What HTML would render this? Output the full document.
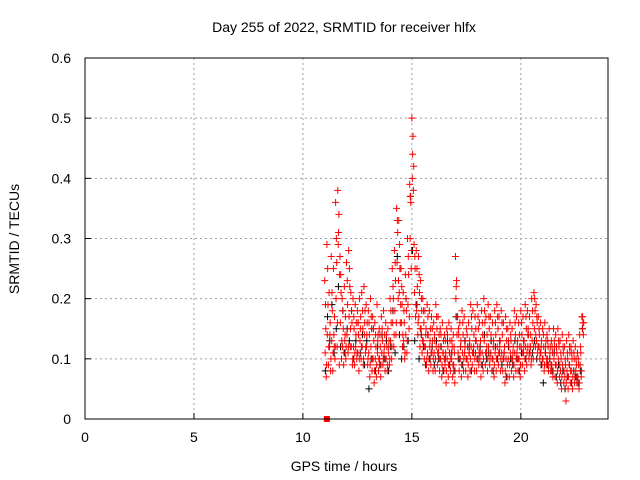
<!DOCTYPE html>
<html><head><meta charset="utf-8"><style>
body{margin:0;background:#fff}
svg{display:block;font-family:"Liberation Sans",sans-serif}
</style></head><body>
<svg id="chart" width="640" height="480" xmlns="http://www.w3.org/2000/svg">
<rect width="640" height="480" fill="#fff"/>
<text x="344" y="32" font-size="14" text-anchor="middle">Day 255 of 2022, SRMTID for receiver hlfx</text>
<text x="344" y="471" font-size="14" text-anchor="middle">GPS time / hours</text>
<text transform="translate(19,239) rotate(-90)" font-size="14" text-anchor="middle">SRMTID / TECUs</text>
<g id="grid"></g>
<g id="ticks"></g>
<g id="marks"></g>
<rect x="85" y="58" width="523" height="361" fill="none" stroke="#000" stroke-width="1"/>
</svg>
<script>
const xTicks=[0,5,10,15,20];
const yTicks=[0,0.1,0.2,0.3,0.4,0.5,0.6];
const yTickLabels=["0","0.1","0.2","0.3","0.4","0.5","0.6"];
const times=[11.0,11.1,11.2,11.3,11.4,11.5,11.6,11.7,11.8,11.9,12.0,12.1,12.2,12.3,12.4,12.5,12.6,12.7,12.8,12.9,13.0,13.1,13.2,13.3,13.4,13.5,13.6,13.7,13.8,13.9,14.0,14.1,14.2,14.3,14.4,14.5,14.6,14.7,14.8,14.9,15.0,15.1,15.2,15.3,15.4,15.5,15.6,15.7,15.8,15.9,16.0,16.1,16.2,16.3,16.4,16.5,16.6,16.7,16.8,16.9,17.0,17.1,17.2,17.3,17.4,17.5,17.6,17.7,17.8,17.9,18.0,18.1,18.2,18.3,18.4,18.5,18.6,18.7,18.8,18.9,19.0,19.1,19.2,19.3,19.4,19.5,19.6,19.7,19.8,19.9,20.0,20.1,20.2,20.3,20.4,20.5,20.6,20.7,20.8,20.9,21.0,21.1,21.2,21.3,21.4,21.5,21.6,21.7,21.8,21.9,22.0,22.1,22.2,22.3,22.4,22.5,22.6,22.7,22.8];
const seriesA=[.23,.29,.21,.27,.25,.36,.38,.27,.20,.22,.26,.28,.21,.20,.19,.18,.20,.21,.22,.19,.18,.20,.17,.16,.19,.15,.17,.18,.16,.15,.20,.25,.28,.35,.33,.25,.21,.24,.30,.39,.50,.29,.28,.27,.23,.20,.18,.19,.18,.17,.16,.19,.17,.15,.16,.14,.15,.16,.15,.14,.27,.17,.16,.18,.17,.15,.16,.19,.18,.17,.19,.16,.18,.20,.17,.19,.17,.16,.18,.19,.17,.18,.16,.17,.15,.16,.15,.18,.17,.16,.18,.17,.19,.18,.17,.20,.21,.19,.17,.16,.15,.16,.14,.15,.13,.15,.14,.15,.13,.14,.12,.13,.14,.12,.13,.12,.11,.14,.17];
const seriesB=[.15,.19,.16,.18,.17,.26,.34,.21,.15,.17,.19,.22,.16,.15,.16,.14,.17,.15,.18,.16,.14,.15,.13,.12,.14,.12,.13,.14,.12,.13,.16,.20,.23,.31,.25,.19,.16,.18,.24,.36,.47,.25,.22,.21,.18,.16,.15,.14,.15,.13,.13,.15,.14,.12,.13,.11,.12,.13,.12,.11,.23,.14,.13,.14,.13,.12,.13,.15,.14,.13,.15,.13,.14,.16,.14,.15,.13,.13,.14,.15,.13,.14,.12,.13,.12,.13,.12,.14,.13,.12,.14,.13,.15,.14,.14,.16,.18,.16,.14,.13,.12,.13,.12,.12,.11,.12,.11,.12,.10,.11,.09,.10,.11,.10,.10,.09,.09,.11,.16];
const seriesC=[.11,.14,.12,.13,.14,.20,.29,.16,.12,.13,.14,.17,.12,.12,.12,.11,.13,.12,.14,.12,.11,.12,.10,.10,.11,.10,.11,.11,.10,.11,.13,.16,.18,.26,.21,.16,.13,.14,.19,.30,.40,.21,.18,.17,.15,.13,.12,.11,.12,.11,.11,.12,.11,.10,.11,.09,.10,.11,.10,.09,.20,.11,.10,.11,.11,.10,.11,.12,.11,.11,.12,.10,.11,.13,.11,.12,.11,.10,.11,.12,.11,.11,.10,.10,.10,.11,.10,.11,.11,.10,.12,.11,.12,.12,.11,.13,.15,.13,.12,.11,.10,.11,.10,.10,.09,.10,.09,.10,.08,.09,.07,.08,.09,.08,.08,.08,.07,.09,.15];
const seriesD=[.07,.09,.08,.08,.10,.12,.09,.10,.09,.10,.11,.12,.09,.09,.10,.08,.10,.09,.11,.09,.07,.08,.06,.07,.08,.07,.09,.08,.08,.09,.10,.12,.14,.20,.16,.12,.10,.11,.15,.25,.38,.17,.14,.12,.11,.10,.09,.08,.09,.08,.08,.09,.08,.07,.08,.06,.07,.08,.07,.06,.14,.08,.07,.08,.08,.07,.08,.09,.08,.08,.09,.07,.08,.09,.08,.09,.08,.07,.08,.09,.08,.08,.06,.07,.07,.08,.07,.08,.08,.07,.09,.08,.09,.10,.09,.10,.12,.11,.10,.09,.08,.09,.08,.08,.07,.07,.06,.07,.05,.06,.03,.05,.06,.05,.06,.06,.05,.07,.14];
const seriesE=[.19,.25,.14,.21,.12,.30,.31,.24,.18,.14,.23,.25,.18,.17,.14,.16,.15,.18,.16,.14,.16,.17,.15,.14,.13,.14,.15,.12,.14,.12,.18,.22,.26,.33,.29,.22,.18,.20,.27,.37,.44,.27,.25,.24,.20,.18,.14,.17,.13,.15,.14,.17,.12,.14,.11,.13,.14,.11,.13,.12,.22,.15,.12,.16,.12,.14,.11,.17,.12,.15,.17,.11,.16,.18,.12,.17,.14,.12,.16,.17,.12,.16,.11,.15,.13,.14,.11,.16,.12,.14,.16,.12,.17,.15,.12,.18,.20,.17,.15,.12,.14,.12,.13,.11,.12,.13,.12,.13,.11,.12,.10,.11,.12,.11,.11,.10,.10,.12,.17];
const seriesF=[.09,.12,.10,.11,.12,.16,.24,.13,.11,.12,.12,.15,.10,.11,.11,.10,.12,.10,.12,.10,.09,.10,.08,.09,.10,.09,.10,.10,.09,.10,.12,.14,.16,.23,.19,.14,.11,.13,.17,.28,.42,.19,.16,.15,.13,.12,.10,.10,.11,.10,.10,.11,.10,.09,.10,.08,.09,.10,.09,.08,.17,.10,.09,.10,.10,.09,.10,.11,.10,.10,.11,.09,.10,.11,.10,.10,.10,.09,.10,.11,.10,.10,.08,.09,.09,.10,.09,.10,.10,.09,.11,.10,.11,.11,.10,.12,.14,.12,.11,.10,.09,.10,.09,.09,.08,.09,.08,.09,.07,.08,.06,.07,.08,.07,.07,.07,.06,.08,.16];
const blackSeries=[.08,.17,.13,.19,.11,.15,.22,.12,.18,.11,.15,.13,.18,.10,.13,.16,.11,.14,.09,.13,.05,.10,.15,.08,.12,.09,.14,.10,.13,.08,.12,.18,.11,.27,.14,.10,.12,.20,.13,.37,.28,.13,.19,.10,.14,.12,.09,.14,.10,.12,.09,.13,.10,.12,.08,.10,.13,.09,.11,.08,.17,.10,.12,.09,.13,.10,.12,.08,.11,.13,.10,.12,.09,.14,.10,.11,.13,.08,.12,.10,.13,.09,.11,.07,.12,.10,.09,.13,.10,.08,.11,.13,.10,.14,.12,.11,.13,.10,.12,.09,.06,.11,.09,.10,.08,.11,.07,.09,.06,.08,.05,.07,.09,.06,.08,.07,.06,.08,.15];
const zeroTimes=[11.1];
const zeroValues=[0];

const X0=85,X1=608,Y0=419,Y1=58;
const xScale=v=>X0+(v/24)*(X1-X0);
const yScale=v=>Y0-(v/0.6)*(Y0-Y1);
const NS="http://www.w3.org/2000/svg";
function mk(tag,attrs,parent){const e=document.createElementNS(NS,tag);for(const k in attrs)e.setAttribute(k,attrs[k]);parent.appendChild(e);return e;}
const grid=document.getElementById('grid'),ticks=document.getElementById('ticks'),marks=document.getElementById('marks');
xTicks.forEach(v=>{
  const x=xScale(v);
  if(v>0){const g=mk('line',{x1:x,x2:x,y1:Y1,y2:Y0,stroke:'#a0a0a0','stroke-dasharray':'2,3','stroke-width':1},grid);
  
  }
  const t=mk('line',{x1:x,x2:x,y1:Y0,y2:Y0-6,stroke:'#000'},ticks);
  
  
  const l=mk('text',{x:x,y:Y0+23,'font-size':14,'text-anchor':'middle'},ticks);
  l.textContent=String(v);
  
  
});
yTicks.forEach((v,i)=>{
  const y=yScale(v);
  if(v>0&&v<0.6){const g=mk('line',{x1:X0,x2:X1,y1:y,y2:y,stroke:'#a0a0a0','stroke-dasharray':'2,3','stroke-width':1},grid);
  
  }
  const t=mk('line',{x1:X0,x2:X0+6,y1:y,y2:y,stroke:'#000'},ticks);
  
  
  const l=mk('text',{x:X0-14,y:y+5,'font-size':14,'text-anchor':'end'},ticks);
  l.textContent=yTickLabels[i];
  
  
});
function plus(t,v,color,name){
  const x=xScale(t),y=yScale(v);
  const p=mk('path',{d:`M${x-3.5},${y}h7M${x},${y-3.5}v7`,stroke:color,'stroke-width':1,fill:'none'},marks);
  
  
}
times.forEach((t,i)=>plus(t+0.03,blackSeries[i],'#000','black-point'));
const offsets=[0,0.05,0.02,0.07,0.035,0.085];
[seriesA,seriesB,seriesC,seriesD,seriesE,seriesF].forEach((s,k)=>{
  times.forEach((t,i)=>plus(t+offsets[k],s[i],'#ff0000','red-point'));
});
zeroTimes.forEach((t,i)=>{
  const r=mk('rect',{x:xScale(t)-3,y:yScale(zeroValues[i])-3,width:6,height:6,fill:'#ff0000'},marks);
  
  
});
</script>
</body></html>
